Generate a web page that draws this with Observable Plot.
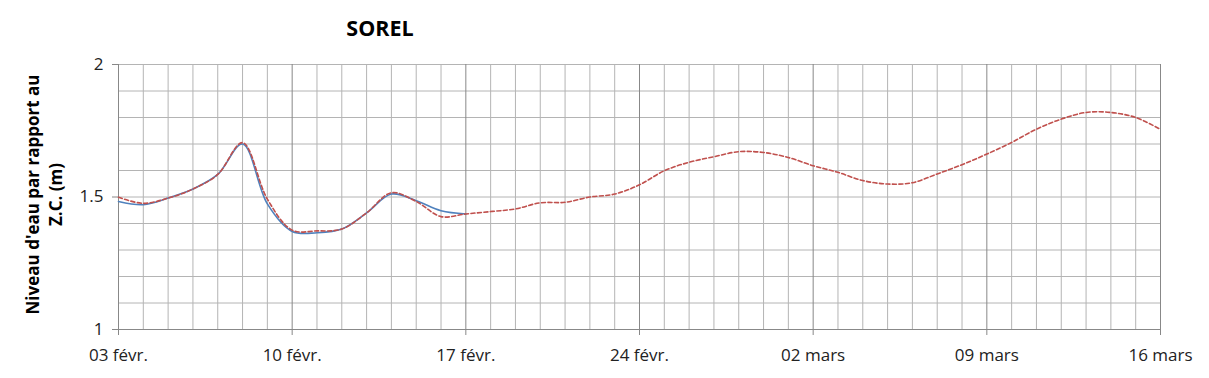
<!DOCTYPE html>
<html><head><meta charset="utf-8">
<script src="https://cdn.jsdelivr.net/npm/d3@7"></script>
<script src="https://cdn.jsdelivr.net/npm/@observablehq/plot@0.6"></script>
<style>
body{margin:0;background:#fff;}
#wrap{position:relative;width:1209px;height:378px;font-family:"Open Sans",sans-serif;}
#title{position:absolute;left:300px;width:160px;text-align:center;top:13px;font-weight:bold;font-size:21.5px;line-height:30px;color:#000;}
#chart{position:absolute;left:0;top:0;}
</style></head><body>
<div id="wrap"><div id="chart"></div><div id="title">SOREL</div></div>
<script>
// Data (daily, starting 2020-02-03)
const startDate = "2020-02-03";
const forecastLevels = [
  1.499, 1.476, 1.496, 1.530, 1.585, 1.705, 1.492, 1.375, 1.372, 1.379,
  1.440, 1.516, 1.483, 1.426, 1.436, 1.445, 1.455, 1.478, 1.480, 1.500,
  1.511, 1.546, 1.599, 1.631, 1.652, 1.671, 1.668, 1.649, 1.618, 1.593,
  1.562, 1.549, 1.554, 1.587, 1.622, 1.662, 1.706, 1.756, 1.794, 1.819,
  1.819, 1.800, 1.755
];
const observedLevels = [
  1.483, 1.471, 1.496, 1.530, 1.585, 1.700, 1.474, 1.370, 1.365, 1.379,
  1.440, 1.511, 1.486, 1.448, 1.436
];
const tickDates = ["2020-02-03","2020-02-10","2020-02-17","2020-02-24","2020-03-02","2020-03-09","2020-03-16"];
const tickLabels = ["03 févr.","10 févr.","17 févr.","24 févr.","02 mars","09 mars","16 mars"];
const yTicks = [1, 1.5, 2];
const yTickLabels = ["1", "1.5", "2"];
const yGrid = [1.1, 1.2, 1.3, 1.4, 1.5, 1.6, 1.7, 1.8, 1.9, 2.0];
const title = "SOREL";
const yTitle = ["Niveau d'eau par rapport au", "Z.C. (m)"];

const start = new Date(startDate + "T00:00:00Z");
const dayOf = i => d3.utcDay.offset(start, i);
const forecast = forecastLevels.map((v, i) => ({date: dayOf(i), value: v}));
const observed = observedLevels.map((v, i) => ({date: dayOf(i), value: v}));
const allDays = forecastLevels.map((_, i) => dayOf(i));
const majorDays = tickDates.map(d => new Date(d + "T00:00:00Z"));
const majorSet = new Set(majorDays.map(d => +d));
const minorDays = allDays.filter(d => !majorSet.has(+d));
const labelOf = new Map(majorDays.map((d, i) => [+d, tickLabels[i]]));
const yLabelOf = new Map(yTicks.map((v, i) => [v, yTickLabels[i]]));

const font = "'Open Sans', sans-serif";
const chart = Plot.plot({
  width: 1209, height: 378,
  marginLeft: 118, marginRight: 49, marginTop: 64, marginBottom: 49,
  x: {type: "utc", domain: [majorDays[0], majorDays[majorDays.length - 1]]},
  y: {domain: [1, 2]},
  style: {fontFamily: font, background: "white", overflow: "visible"},
  marks: [
    Plot.ruleY(yGrid, {stroke: "#b4b4b4", strokeWidth: 1}),
    Plot.ruleX(minorDays, {stroke: "#b4b4b4", strokeWidth: 1}),
    Plot.ruleX(majorDays, {stroke: "#888888", strokeWidth: 1}),
    Plot.ruleY([1], {stroke: "#888888", strokeWidth: 1}),
    Plot.axisX({ticks: majorDays, tickFormat: d => labelOf.get(+d), tickSize: 6, tickPadding: 13,
      fontSize: 17, stroke: "#888888", fill: "#222", label: null}),
    Plot.axisY({ticks: yTicks, tickFormat: v => yLabelOf.get(v), tickSize: 6, tickPadding: 9,
      fontSize: 17, stroke: "#888888", fill: "#222", label: null}),
    Plot.line(observed, {x: "date", y: "value", stroke: "#4f81bd", strokeWidth: 1.6, curve: "catmull-rom"}),
    Plot.line(forecast, {x: "date", y: "value", stroke: "#c0504d", strokeWidth: 1.6, strokeDasharray: "4,2.5", curve: "catmull-rom"})
  ]
});
document.getElementById("chart").appendChild(chart);

const svg = d3.select(chart);
const cy = 64 + (378 - 64 - 49) / 2 - 2;
[[32, yTitle[0]], [55, yTitle[1]]].forEach(([x, t]) => {
  svg.append("text")
    .attr("transform", `translate(${x},${cy}) rotate(-90)`)
    .attr("text-anchor", "middle")
    .attr("dominant-baseline", "central")
    .attr("font-family", font)
    .attr("font-weight", "bold")
    .attr("font-size", 17)
    .attr("fill", "#000")
    .text(t);
});
document.getElementById("title").textContent = title;
</script>
</body></html>
